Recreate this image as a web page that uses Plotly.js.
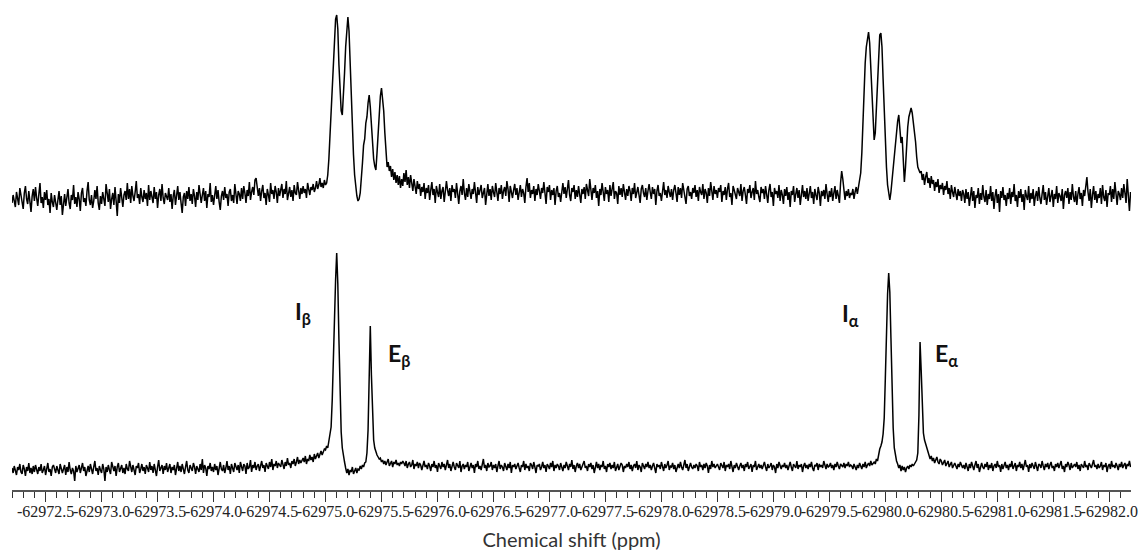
<!DOCTYPE html>
<html>
<head>
<meta charset="utf-8">
<script src="https://cdn.plot.ly/plotly-3.0.1.min.js"></script>
<style>
  html, body { margin: 0; padding: 0; background: #fff; }
  #spectrum_chart { width: 1148px; height: 560px; }
</style>
</head>
<body>
<div id="spectrum_chart"></div>
<script>
// chemical shift (ppm) where each block of points starts; points are 0.01 ppm apart
var segment_start = [-62972.20, -62975.00, -62975.70, -62979.70, -62980.70];
var ppm_step = 0.01;

// upper spectrum (coupled), intensity in arbitrary units
var top_left = [
  -6, 2, -4, -10, 5, -1, -8, 9, 3, -5, -12, 4, 11, -2, -7, 6, -3, -15, 1, 8,
  -4, 10, -1, -9, 3, 14, -6, 0, -11, 5, -3, 7, -8, -2, -16, 4, -5, -10, 2, -7,
  -13, -3, 6, -8, 1, -18, -4, 3, -9, -1, 8, -6, -12, 2, -3, 12, -7, 0, -10, 5,
  -2, -14, 4, 9, -5, -1, -9, 6, 15, -3, -8, 2, -11, -4, 7, -2, 11, -6, -13, 1,
  -7, 5, -3, -9, 13, 0, -5, 8, -12, -2, 4, -8, 10, -4, -19, 3, -6, 9, -1, -10,
  2, 6, -3, 14, -2, 8, -6, 11, 1, -4, 5, 16, -1, 3, -7, 9, 0, -5, 7, -2,
  4, -9, 12, -3, 6, 1, -6, 10, -2, 5, -11, 2, 8, -4, 13, -1, -7, 4, 0, -3,
  9, -5, 3, -12, 1, 7, -8, 2, 11, -3, 5, -6, -16, 0, 4, -9, 6, -2, 10, -4,
  3, -7, 8, 1, -10, 5, -3, 12, -1, -6, 2, 9, -4, 6, -11, 3, 0, 14, -5, 2,
  -8, 4, 11, -2, 7, -5, -13, 1, 6, -3, 10, -1, 3, -9, 5, 8, -4, 2, -6, 13,
  0, -7, 6, 3, -4, 9, -2, 11, 4, -6, 7, 1, 15, -3, 5, 10, 2, 17, 19, 8,
  1, 9, -4, 6, 12, -1, 4, -8, 8, 2, -5, 14, 3, 7, -2, 11, 5, -6, 9, 1,
  6, 13, -1, 8, 3, 16, -3, 5, 10, 0, 7, -4, 12, 4, 2, 15, 6, -2, 9, 3,
  11, 4, 8, -1, 14, 6, 2, 10, 7, 13, 5, 9, 16, 8, 12, 19, 10, 14, 9, 17
];
var top_beta = [
  12, 14, 22, 38, 62, 95, 108, 138, 163, 178,
  182, 168, 132, 102, 86, 82, 98, 124, 150, 170,
  180, 166, 132, 96, 66, 42, 22, 8, 1, -4,
  -2, 4, 16, 34, 52, 58, 74, 80, 94, 102,
  90, 68, 56, 38, 31, 27, 44, 66, 84, 101,
  109, 98, 86, 64, 44, 30, 35, 26, 31, 20,
  28, 17, 25, 14, 22, 12, 21, 9, 18, 11
];
var top_mid = [
  24, 15, 27, 12, 20, 9, 22, 14, 6, 18, 11, 3, 16, 8, 13, 1, 10, 5, 14, -2,
  9, 4, 12, -3, 7, 15, 2, 8, -6, 11, 5, 0, 13, -2, 6, 10, -5, 3, 16, 7,
  1, 9, -4, 12, 5, 8, -1, 14, 3, -7, 6, 11, 2, 18, 4, -3, 9, 0, 13, 6,
  -2, 8, 3, 15, 5, -6, 10, 2, 7, 12, -1, 4, 9, -8, 6, 13, 1, 8, -3, 11,
  5, 0, 14, 7, -4, 9, 3, 12, -2, 6, 10, 1, 16, 8, -5, 11, 4, -1, 7, 13,
  2, 9, -3, 6, 12, 0, 8, 4, -6, 10, 19, 5, 14, -1, 7, 3, 11, -4, 8, 2,
  13, 6, -2, 9, 4, 15, 1, -7, 10, 5, 12, -3, 7, 2, 9, -8, 6, 11, 0, 4,
  -5, 8, 14, 3, 10, -1, 6, 17, 2, -4, 9, 5, 12, -2, 7, 0, 11, 4, -6, 8,
  3, 10, -2, 13, 6, 1, 18, 7, -3, 9, 4, 12, -1, 6, -9, 8, 2, 14, 5, -4,
  10, 3, 7, -5, 12, 1, 8, 15, -2, 6, 4, -7, 11, 2, 9, 0, 13, 5, -3, 8,
  1, 11, 6, -4, 9, 3, 14, -1, 7, 10, 2, -6, 8, 12, 4, 0, 9, -3, 6, 13,
  5, -2, 10, 3, 8, -8, 6, 12, 1, 4, -4, 9, 15, 2, 7, -1, 11, 5, 0, 8,
  -3, 7, 12, 4, -5, 10, 2, 9, -1, 14, 6, 3, -7, 8, 11, 1, 5, -2, 9, 4,
  12, 0, 7, -4, 10, 5, 2, 13, -2, 8, 4, -6, 9, 1, 15, 6, -3, 11, 3, 7,
  -1, 9, 5, 12, -5, 6, 2, 10, -3, 8, 14, 0, 4, -8, 11, 7, 3, -2, 9, 5,
  1, 13, -4, 6, 10, 2, -7, 8, 4, 12, -1, 5, 9, -3, 16, 3, 7, 0, -5, 10,
  4, 8, -2, 11, 2, -6, 7, 13, 0, 5, -9, 9, 3, 6, -1, 12, -4, 7, 2, -7,
  8, 1, 10, -3, 5, -10, 6, 2, 11, -5, 3, 9, -1, 7, -8, 4, 12, 0, 6, -2,
  9, -4, 3, 11, -1, 5, -7, 8, 2, -3, 10, 4, -9, 6, 1, 7, -2, 13, 3, -5,
  6, 0, 9, -4, 4, 11, -2, 7, 1, -6, 14, 26, 18, 7, -3, 6, 1, 8, -1, 4
];
var top_alpha = [
  2, 8, -2, 5, 10, 3, 12, 16, 24, 44,
  76, 108, 134, 150, 158, 165, 154, 128, 98, 70,
  57, 64, 90, 121, 148, 162, 164, 150, 118, 84,
  54, 30, 12, 2, -3, 5, 18, 31, 44, 56,
  64, 76, 82, 70, 54, 60, 38, 15, 30, 54,
  70, 80, 84, 89, 84, 76, 67, 55, 40, 30,
  27, 24, 26, 17, 23, 12, 20, 25, 14, 19,
  9, 21, 13, 17, 6, 15, 10, 18, 4, 12,
  8, 14, 2, 11, 7, 16, 3, 9, -2, 12,
  5, 0, 10, 4, -3, 8, 1, 6, -4, 7
];
var top_right = [
  3, -6, 8, -2, 5, -9, 1, 10, -4, 6, -11, 2, -1, 9, -7, 4, -3, 12, 0, -5,
  7, -8, 3, -2, 11, -4, 5, -12, 1, 8, -6, 3, -15, 6, -1, 10, -3, 2, -9, 4,
  -2, 9, -7, 5, 0, 13, -4, 2, -10, 6, -1, 8, -5, 3, -13, 7, 1, -3, 11, -6,
  4, -2, 8, -9, 1, 6, -4, 10, -1, -7, 3, 12, -3, 5, -8, 2, 9, -5, 0, 7,
  -10, 3, -2, 11, -6, 4, 1, -4, 8, -12, 2, 6, -1, 9, -7, 5, -3, 13, 0, -5,
  6, -8, 3, 10, -2, 4, -9, 7, 1, 14, 20, 5, -4, 8, -11, 2, 11, -3, 6, -6,
  3, -1, 9, -7, 12, 0, -4, 7, -10, 4, 2, 11, -5, 8, -2, 15, 1, -8, 6, 3,
  -3, 9, -1, 13, 4, -6, 18, 2, -14, 5
];

// lower spectrum (decoupled)
var bottom_left = [
  2, -3, 4, -1, -5, 3, 0, 6, -2, -4, 5, 1, -6, 3, -1, 7, -3, 2, -4, 4,
  -2, 5, 1, -4, 3, -1, 6, -3, 0, 4, -5, 2, 7, -2, 1, -6, 3, 5, -1, -3,
  4, 0, -4, 6, 2, -3, 1, 5, -5, 3, -2, 8, 0, -4, 2, -1, -11, 4, -2, 1,
  5, -3, 2, 7, -1, 3, -6, 0, 4, -2, 6, 1, -4, 3, 9, -1, 2, -5, 4, 0,
  -3, 6, 1, -11, 3, -2, 5, 0, -4, 8, 2, -1, 4, -6, 3, 7, -2, 1, 5, -3,
  2, -4, 6, 1, -1, 9, 3, -2, 5, 0, -5, 4, 2, 7, -3, 1, 6, -1, 3, -4,
  5, 2, -2, 8, 0, 4, -3, 6, 1, -6, 3, 10, -1, 2, 5, -4, 4, 0, 7, -2,
  1, 6, -3, 3, 0, 5, -5, 2, 8, -1, 4, -2, 6, 1, -4, 3, 9, 0, -3, 5,
  2, -1, 7, 3, -4, 4, 1, -2, 6, 0, 11, -3, 5, 2, -6, 4, 1, 7, -1, 3,
  -2, 6, 0, 4, -5, 3, 8, 1, -1, 5, -3, 2, 9, 0, 4, -4, 6, 2, -2, 7,
  3, 0, 5, -3, 8, 2, -1, 6, 4, -4, 7, 1, 3, 10, -2, 5, 2, 8, 0, 4,
  6, -1, 3, 9, 2, 5, -2, 7, 4, 1, 8, 3, 11, 0, 6, 4, 9, 2, 7, 5,
  3, 10, 6, 1, 8, 4, 12, 5, 7, 2, 9, 6, 11, 4, 8, 13, 6, 10, 7, 9,
  12, 8, 14, 6, 11, 9, 15, 10, 13, 8, 16, 11, 14, 17, 12, 16, 19, 15, 18, 21
];
var bottom_beta = [
  20, 24, 22, 30, 36, 43, 70, 115, 152, 190,
  217, 186, 130, 76, 38, 22, 13, 8, 2, -3,
  1, -5, 0, -2, 3, -4, -1, 2, -3, 1,
  0, 4, 1, 5, 3, 7, 8, 17, 40, 85,
  144, 95, 50, 30, 22, 18, 15, 13, 11, 12,
  8, 10, 6, 9, 5, 8, 11, 4, 7, 9,
  3, 8, 6, 10, 5, 7, 4, 8, 6, 9
];
var bottom_mid = [
  7, 4, 9, 2, 6, 8, 3, 5, 10, 1, 6, 4, 8, 2, 7, 5, 0, 6, 9, 3,
  5, 1, 7, 4, -1, 6, 3, 9, 2, 5, -2, 7, 4, 1, 8, 3, 6, 0, 5, 10,
  2, 6, -1, 4, 8, 3, 0, 7, 5, 2, 9, -2, 4, 6, 1, 5, 3, 8, -1, 4,
  7, 2, 5, -3, 6, 3, 9, 1, 4, 0, 6, 11, 2, 5, -1, 7, 3, 4, 8, 0,
  5, 2, 6, -2, 4, 9, 1, 5, 3, -1, 7, 4, 0, 6, 2, 8, -3, 5, 3, 6,
  1, 4, 7, 2, -2, 5, 3, 9, 0, 6, 2, 4, -1, 7, 5, 1, 8, 3, -3, 5,
  4, 6, 0, 3, 8, 2, 5, -2, 6, 4, 1, 7, 3, 9, -1, 5, 2, 6, 4, 0,
  7, 3, -1, 5, 2, 8, 4, 0, 6, 3, 10, 1, 5, -2, 4, 7, 2, 6, 0, 3,
  5, 9, 2, 4, -1, 6, 3, 7, 1, 5, -3, 4, 8, 2, 6, 0, 5, 3, 9, 1,
  4, -2, 6, 3, 7, 1, 5, 2, 8, -1, 4, 6, 0, 3, 7, 5, -2, 4, 2, 6,
  3, 8, 1, 5, -1, 4, 6, 2, 9, 0, 5, 3, -2, 7, 4, 1, 6, 3, 8, 2,
  5, 0, 4, 7, 2, -3, 6, 3, 5, 1, 8, 4, -1, 6, 2, 5, 9, 0, 4, 3,
  7, 1, 5, -2, 4, 6, 2, 8, 3, 0, 5, 10, 2, 6, -1, 4, 7, 3, 1, 5,
  2, 6, 4, -1, 8, 3, 5, 0, 6, 2, 7, 4, -3, 5, 1, 9, 3, 6, 2, 4,
  6, 3, 0, 7, 4, 2, 8, -1, 5, 3, 6, 1, 9, 4, -2, 5, 2, 7, 3, 0,
  4, 7, 2, 5, -1, 6, 3, 8, 1, 4, 6, -2, 5, 3, 9, 0, 4, 6, 2, 5,
  1, 5, 8, 3, -1, 6, 2, 4, 7, 0, 5, 3, -3, 6, 2, 8, 4, 1, 5, 3,
  7, 2, 5, 0, 4, 8, 3, -1, 6, 4, 2, 9, 1, 5, 3, 6, -2, 4, 7, 2,
  5, 1, 6, 3, 8, 2, -1, 5, 4, 7, 0, 6, 3, 5, 2, 9, 4, 1, 6, 3,
  4, 7, 2, 5, 0, 6, 3, 8, 4, 1, 6, 5, 3, 7, 2, 6, 4, 8, 3, 5
];
var bottom_alpha = [
  4, 1, 6, 3, 0, 5, 2, 7, 4, 1,
  6, 3, 8, 2, 5, 7, 4, 9, 5, 7,
  8, 6, 11, 9, 16, 21, 24, 28, 36, 52,
  92, 140, 176, 197, 178, 132, 80, 42, 22, 14,
  9, 6, 2, 5, -1, 4, 0, 3, -2, 2,
  4, 1, 5, 3, 6, 4, 7, 8, 10, 17,
  55, 128, 100, 60, 37, 30, 26, 22, 17, 13,
  11, 14, 9, 12, 7, 10, 13, 8, 6, 11,
  9, 5, 8, 10, 4, 7, 9, 3, 6, 8,
  2, 5, 7, 4, 1, 6, 3, 8, 5, 2
];
var bottom_right = [
  5, 1, 7, 3, -1, 6, 2, 8, 4, 0, 5, 9, 2, 6, -2, 4, 7, 3, 1, 6,
  3, 8, 0, 5, 2, 7, -1, 4, 6, 2, 9, 3, 5, -2, 6, 1, 4, 8, 2, 5,
  0, 6, 3, 9, 1, 4, 7, -1, 5, 3, 8, 2, 6, 0, 4, 10, 3, 5, -2, 6,
  2, 7, 4, 1, 8, 3, -1, 6, 5, 2, 9, 4, 0, 6, 3, 7, 1, 5, 8, 2,
  4, -1, 6, 3, 7, 2, 5, 9, 1, 4, -2, 6, 3, 8, 5, 0, 7, 2, 4, 6,
  3, 8, 1, 5, -1, 6, 4, 2, 9, 3, 5, 0, 7, 4, 2, 6, 10, 3, 5, 1,
  6, 2, 4, 8, 0, 5, 3, 7, -2, 4, 6, 1, 9, 3, 5, 2, 7, 4, 0, 6,
  3, 8, 2, 5, 7, 1, 6, 4, 9, 3
];

var tick_vals = [-62972.5, -62973.0, -62973.5, -62974.0, -62974.5, -62975.0, -62975.5,
  -62976.0, -62976.5, -62977.0, -62977.5, -62978.0, -62978.5, -62979.0, -62979.5,
  -62980.0, -62980.5, -62981.0, -62981.5, -62982.0];
var tick_text = ["-62972.5", "-62973.0", "-62973.5", "-62974.0", "-62974.5", "-62975.0", "-62975.5",
  "-62976.0", "-62976.5", "-62977.0", "-62977.5", "-62978.0", "-62978.5", "-62979.0", "-62979.5",
  "-62980.0", "-62980.5", "-62981.0", "-62981.5", "-62982.0"];

var peak_labels = ["<b>I<sub>β</sub></b>", "<b>E<sub>β</sub></b>", "<b>I<sub>α</sub></b>", "<b>E<sub>α</sub></b>"];
var label_ppm = [-62974.80, -62975.66, -62979.69, -62980.55];
var label_height = [158, 116, 156, 116];

function build_spectrum(blocks) {
    var x = [], y = [];
    for (var s = 0; s < blocks.length; s++) {
        for (var k = 0; k < blocks[s].length; k++) {
            x.push(segment_start[s] - k * ppm_step);
            y.push(blocks[s][k]);
        }
    }
    return {x: x, y: y};
}

var upper = build_spectrum([top_left, top_beta, top_mid, top_alpha, top_right]);
var lower = build_spectrum([bottom_left, bottom_beta, bottom_mid, bottom_alpha, bottom_right]);

var trace1 = {
    x: lower.x,
    y: lower.y,
    xaxis: 'x',
    yaxis: 'y',
    mode: 'lines',
    line: {color: '#000', width: 1.5},
    type: 'scatter',
    hoverinfo: 'skip'
};

var trace2 = {
    x: upper.x,
    y: upper.y,
    xaxis: 'x',
    yaxis: 'y2',
    mode: 'lines',
    line: {color: '#000', width: 1.5},
    type: 'scatter',
    hoverinfo: 'skip'
};

var annotations = [];
for (var i = 0; i < peak_labels.length; i++) {
    annotations.push({
        x: label_ppm[i],
        y: label_height[i],
        xref: 'x',
        yref: 'y',
        text: peak_labels[i],
        showarrow: false,
        xanchor: 'center',
        yanchor: 'middle',
        font: {family: 'Lato, Noto Sans, sans-serif', size: 23, color: '#111'}
    });
}

var layout = {
    width: 1148,
    height: 560,
    margin: {t: 0, l: 12, r: 17, b: 70, pad: 0},
    paper_bgcolor: '#fff',
    plot_bgcolor: '#fff',
    showlegend: false,
    xaxis: {
        range: [-62972.2, -62982.194],
        showgrid: false,
        zeroline: false,
        showline: true,
        linecolor: '#555',
        linewidth: 1.5,
        ticks: 'outside',
        ticklen: 10,
        tickwidth: 1,
        tickcolor: '#333',
        tickmode: 'array',
        tickvals: tick_vals,
        ticktext: tick_text,
        tickangle: 0,
        ticklabelstandoff: -4,
        tickfont: {family: 'Liberation Serif, Times New Roman, serif', size: 16, color: '#222'},
        minor: {
            ticks: 'outside',
            ticklen: 6,
            tickwidth: 1,
            tickcolor: '#333',
            tick0: -62972.5,
            dtick: 0.1,
            showgrid: false
        },
        title: {
            text: 'Chemical shift (ppm)',
            font: {family: 'Lato, Open Sans, sans-serif', size: 20, color: '#333'},
            standoff: 14
        },
        automargin: false
    },
    yaxis: {
        domain: [0, 0.5],
        range: [-20, 225],
        visible: false,
        fixedrange: true
    },
    yaxis2: {
        domain: [0.5, 1],
        range: [-48, 197],
        anchor: 'x',
        visible: false,
        fixedrange: true
    },
    annotations: annotations
};

Plotly.newPlot('spectrum_chart', [trace1, trace2], layout, {displayModeBar: false, staticPlot: true});
</script>
</body>
</html>
